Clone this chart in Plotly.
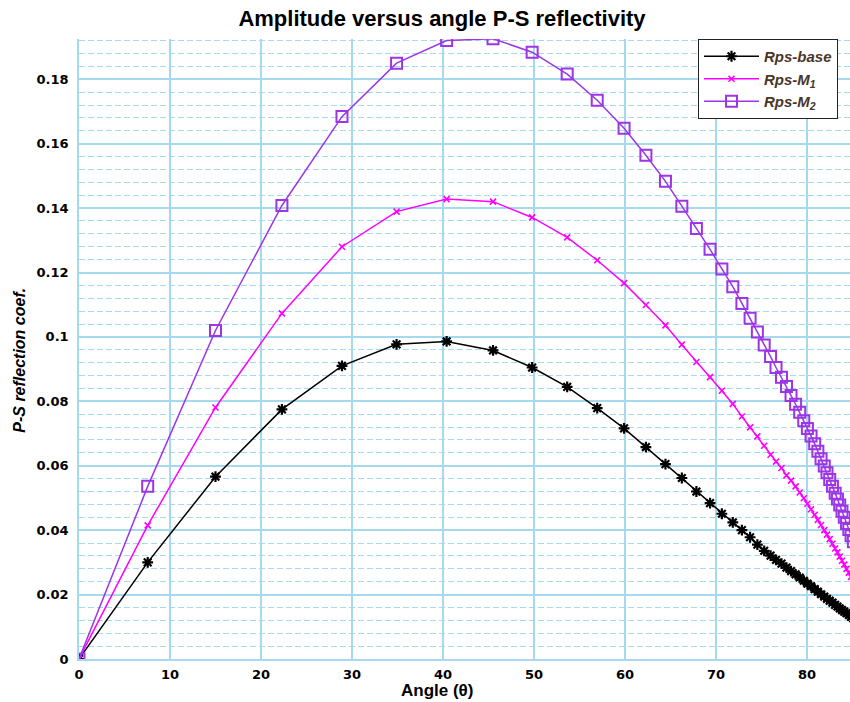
import plotly.graph_objects as go

# ---- data ----
angle = [0, 7.55, 15.0, 22.3, 28.9, 34.9, 40.4, 45.5, 49.8, 53.65, 56.95, 59.9, 62.3,
         64.45, 66.25, 67.85, 69.35, 70.65, 71.85, 72.85, 73.75, 74.55, 75.3, 76.0,
         76.6, 77.2, 77.75, 78.25, 78.75, 79.2, 79.65, 80.05, 80.45, 80.85, 81.2,
         81.55, 81.9, 82.2, 82.5, 82.8, 83.1, 83.35, 83.6, 83.85, 84.1, 84.35, 84.6,
         84.85, 85.1]

rps_base = [0, 0.0300, 0.0566, 0.0775, 0.0910, 0.0977, 0.0986, 0.0958, 0.0905, 0.0845,
            0.0779, 0.0716, 0.0658, 0.0605, 0.0562, 0.0520, 0.0484, 0.0451, 0.0424,
            0.0400, 0.0378, 0.0355, 0.0336, 0.0321, 0.0308, 0.0296, 0.0284, 0.0273,
            0.0263, 0.0253, 0.0243, 0.0234, 0.0226, 0.0217, 0.0209, 0.0201, 0.0194,
            0.0187, 0.0181, 0.0175, 0.0168, 0.0163, 0.0157, 0.0152, 0.0147, 0.0142,
            0.0137, 0.0131, 0.0126]

rps_m1 = [0, 0.0415, 0.0781, 0.1073, 0.1280, 0.1389, 0.1428, 0.1420, 0.1371, 0.1309,
          0.1238, 0.1167, 0.1099, 0.1036, 0.0976, 0.0922, 0.0875, 0.0833, 0.0792,
          0.0753, 0.0719, 0.0691, 0.0662, 0.0634, 0.0613, 0.0593, 0.0570, 0.0554,
          0.0536, 0.0517, 0.0499, 0.0482, 0.0465, 0.0448, 0.0432, 0.0416, 0.0400,
          0.0386, 0.0372, 0.0358, 0.0343, 0.0331, 0.0318, 0.0305, 0.0293, 0.0280,
          0.0268, 0.0255, 0.0242]

rps_m2 = [0, 0.0536, 0.1020, 0.1408, 0.1684, 0.1850, 0.1920, 0.1926, 0.1884, 0.1816,
          0.1735, 0.1648, 0.1564, 0.1483, 0.1406, 0.1337, 0.1272, 0.1211, 0.1156,
          0.1104, 0.1058, 0.1015, 0.0975, 0.0939, 0.0905, 0.0875, 0.0846, 0.0818,
          0.0791, 0.0766, 0.0740, 0.0716, 0.0692, 0.0668, 0.0645, 0.0622, 0.0599,
          0.0578, 0.0557, 0.0536, 0.0515, 0.0497, 0.0478, 0.0459, 0.0440, 0.0421,
          0.0402, 0.0383, 0.0364]

series_names = ["<b><i>Rps-base</i></b>", "<b><i>Rps-M<sub>1</sub></i></b>",
                "<b><i>Rps-M<sub>2</sub></i></b>"]

x_ticks = [0, 10, 20, 30, 40, 50, 60, 70, 80]
y_ticks = [0, 0.02, 0.04, 0.06, 0.08, 0.1, 0.12, 0.14, 0.16, 0.18]
y_tick_text = ["0", "0.02", "0.04", "0.06", "0.08", "0.1", "0.12", "0.14", "0.16", "0.18"]

grid = "rgb(165,217,238)"
purple = "#9b35e6"

fig = go.Figure()
fig.add_trace(go.Scatter(
    x=angle, y=rps_base, mode="lines+markers", name=series_names[0],
    line=dict(color="black", width=1.5),
    marker=dict(symbol="asterisk-open", size=9, color="black",
                line=dict(color="black", width=2.2))))
fig.add_trace(go.Scatter(
    x=angle, y=rps_m1, mode="lines+markers", name=series_names[1],
    line=dict(color="#ff00ff", width=1.5),
    marker=dict(symbol="x-thin-open", size=6, color="#ff00ff",
                line=dict(color="#ff00ff", width=1.6))))
fig.add_trace(go.Scatter(
    x=angle, y=rps_m2, mode="lines+markers", name=series_names[2],
    line=dict(color=purple, width=1.5),
    marker=dict(symbol="square-open", size=11, color=purple,
                line=dict(color=purple, width=2))))

tickfont = dict(family="DejaVu Sans", size=13, color="black", weight="bold")

fig.update_layout(
    width=850, height=702,
    margin=dict(l=79, r=0, t=39, b=43),
    paper_bgcolor="white", plot_bgcolor="white",
    title=dict(text="Amplitude versus angle P-S reflectivity",
               font=dict(family="Liberation Sans", size=22, color="black", weight="bold"),
               x=442 / 850, xanchor="center", xref="container",
               y=1 - 18 / 702, yanchor="middle", yref="container"),
    xaxis=dict(range=[0, 84.73], tickvals=x_ticks, showgrid=True, gridcolor=grid,
               gridwidth=1.5, zeroline=False, showline=True, linecolor=grid,
               linewidth=1.5, ticks="", tickfont=tickfont, ticklabelstandoff=3),
    yaxis=dict(range=[0, 0.1925], tickvals=y_ticks, ticktext=y_tick_text,
               showgrid=True, gridcolor=grid, gridwidth=1.5, zeroline=False,
               showline=True, linecolor=grid, linewidth=1.5, ticks="",
               tickfont=tickfont, ticklabelstandoff=6,
               minor=dict(dtick=0.004, tick0=0, showgrid=True, gridcolor=grid,
                          griddash="6px,3px", gridwidth=1)),
    legend=dict(x=(698 - 79) / 771, y=1, xanchor="left", yanchor="top",
                bgcolor="white", bordercolor="#222222", borderwidth=1,
                itemwidth=55,
                font=dict(family="Liberation Sans", size=15, color="#4a3626")),
    showlegend=True,
    annotations=[
        dict(text="<b>Angle (θ)</b>", xref="paper", yref="paper",
             x=(437 - 79) / 771, y=(659.5 - 691) / 620.5, xanchor="center",
             yanchor="middle", showarrow=False,
             font=dict(family="Liberation Sans", size=17, color="black")),
        dict(text="<b><i>P-S reflection coef.</i></b>", xref="paper", yref="paper",
             x=(20 - 79) / 771, y=(659.5 - 360) / 620.5, xanchor="center",
             yanchor="middle", textangle=-90, showarrow=False,
             font=dict(family="Liberation Sans", size=16, color="black")),
    ],
)

fig.write_html("out.html")
